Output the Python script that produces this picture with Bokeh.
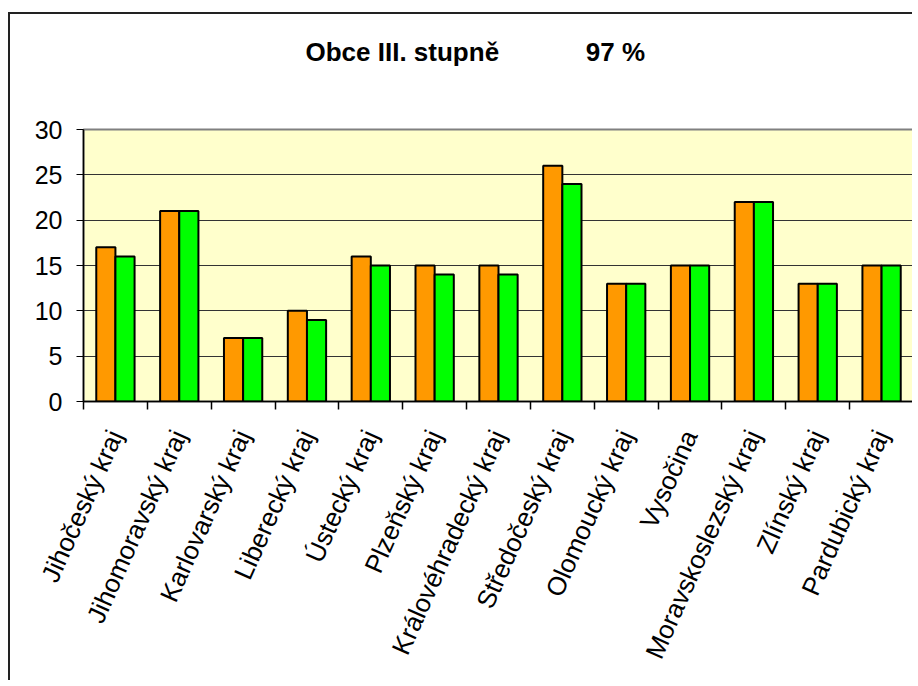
from bokeh.plotting import figure
from bokeh.models import FixedTicker, Range1d, Title
from bokeh.embed import file_html
from bokeh.resources import INLINE

regions = ["Jihočeský kraj", "Jihomoravský kraj", "Karlovarský kraj", "Liberecký kraj",
           "Ústecký kraj", "Plzeňský kraj", "Královéhradecký kraj", "Středočeský kraj",
           "Olomoucký kraj", "Vysočina", "Moravskoslezský kraj", "Zlínský kraj",
           "Pardubický kraj"]
series_a = [17, 21, 7, 10, 16, 15, 15, 26, 13, 15, 22, 13, 15]
series_b = [16, 21, 7, 9, 15, 14, 14, 24, 13, 15, 22, 13, 15]
y_ticks = [0, 5, 10, 15, 20, 25, 30]
title_text = "Obce III. stupně" + "\u00a0" * 12 + "97 %"

idx = list(range(len(regions)))
xa = [i - 0.15 for i in idx]
xb = [i + 0.15 for i in idx]

p = figure(width=904, height=668, output_backend="svg", toolbar_location=None,
           x_range=Range1d(-0.5, len(regions) - 0.5), y_range=Range1d(0, 30),
           min_border_left=73, min_border_right=1, min_border_top=115,
           min_border_bottom=281,
           styles={"border-left": "2px solid #222", "border-top": "2px solid #222",
                   "margin-top": "12px", "margin-left": "8px"})

p.title = Title(text=title_text, align="left", offset=222, vertical_align="top",
                standoff=0, text_font="Liberation Sans", text_font_style="bold",
                text_font_size="26px", text_color="black")
spacer = Title(text="\u00a0", align="left", standoff=32, text_font="Liberation Sans",
               text_font_size="24px", text_color="white")
p.add_layout(spacer, "above")

p.background_fill_color = "#FFFFCC"
p.border_fill_color = "white"
p.outline_line_color = "#808080"
p.outline_line_width = 2

p.vbar(x=xa, top=series_a, width=0.3, bottom=0, fill_color="#FF9900",
       line_color="black", line_width=2)
p.vbar(x=xb, top=series_b, width=0.3, bottom=0, fill_color="#00FF00",
       line_color="black", line_width=2)

p.xgrid.visible = False
p.ygrid.grid_line_color = "#333333"
p.ygrid.grid_line_width = 1
p.ygrid.ticker = FixedTicker(ticks=y_ticks)

ya = p.yaxis[0]
ya.ticker = FixedTicker(ticks=y_ticks)
ya.axis_line_color = "black"
ya.axis_line_width = 1.5
ya.major_tick_out = 7
ya.major_tick_in = 0
ya.minor_tick_line_color = None
ya.major_label_standoff = 14
ya.major_label_text_font = "Liberation Sans"
ya.major_label_text_font_size = "25px"
ya.major_label_text_color = "black"

xax = p.xaxis[0]
xax.ticker = FixedTicker(ticks=idx, minor_ticks=[i - 0.5 for i in range(len(regions) + 1)])
xax.major_label_overrides = {i: r for i, r in enumerate(regions)}
xax.major_tick_out = 0
xax.major_tick_in = 0
xax.minor_tick_out = 8
xax.minor_tick_in = 0
xax.minor_tick_line_color = "black"
xax.minor_tick_line_width = 1.5
xax.axis_line_color = "black"
xax.axis_line_width = 1.5
xax.major_label_orientation = 1.15
xax.major_label_standoff = 22
xax.major_label_text_font = "Liberation Sans"
xax.major_label_text_font_size = "26px"
xax.major_label_text_color = "black"

open("out.html", "w").write(file_html(p, INLINE))
